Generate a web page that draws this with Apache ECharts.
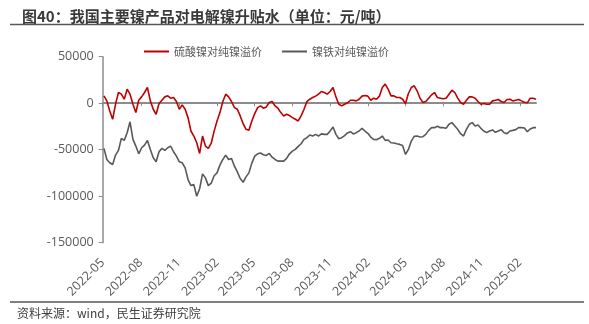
<!DOCTYPE html>
<html><head><meta charset="utf-8">
<script src="https://cdn.jsdelivr.net/npm/echarts@6/dist/echarts.min.js"></script>
<style>html,body{margin:0;padding:0;background:#fff}#c{width:589px;height:324px}</style>
</head><body><div id="c"></div>
<script>
const titleText = '图40：我国主要镍产品对电解镍升贴水（单位：元/吨）';
const sourceText = '资料来源：wind，民生证券研究院';
const seriesNames = ['硫酸镍对纯镍溢价', '镍铁对纯镍溢价'];
const startDate = '2022-05-04';   // weekly observations
const endDate = '2025-03-12';
const tickLabels = ['2022-05','2022-08','2022-11','2023-02','2023-05','2023-08','2023-11','2024-02','2024-05','2024-08','2024-11','2025-02'];
const yTicks = [-150000, -100000, -50000, 0, 50000];

const sulfateValues = [7900,2500,-8300,-17300,-1000,11500,9700,4300,15100,9700,
-1100,-10000,3200,6800,11500,16900,2500,-6500,-11900,-400,
3200,6800,7900,5400,6100,1800,-6500,-1800,-6500,-15500,
-29900,-35300,-42500,-54000,-35300,-46100,-48600,-43000,-30000,-19100,
-10100,1800,9700,6800,1800,-4700,-6500,-13700,-22000,-28100,
-29200,-19100,-11200,-4700,-2900,-5400,-4000,700,1800,-2900,
-5400,-10100,-13700,-11900,-13300,-15500,-17300,-19100,-13700,-6500,
1800,4300,6100,7600,9700,12600,11500,9700,12600,16900,
6800,-1100,-2900,-1100,400,3200,3200,2500,4300,7600,
8300,7600,3200,5400,4300,7600,16900,20500,15100,7900,
7900,6100,6100,4300,-400,10400,16900,18700,13300,5400,
700,1800,5400,9000,11500,6100,5400,4700,5400,9700,
14000,11500,5400,700,-1100,3200,6800,6800,5400,1800,
-1100,-400,-1100,-1100,2500,3200,4000,1800,700,4000,
4300,2500,3200,4000,2500,1100,400,5400,5400,4300];

const ferroValues = [-48600,-60500,-64100,-65900,-55800,-50800,-37800,-40000,-31700,-20000,
-38900,-46100,-54400,-47900,-45000,-40000,-49700,-58700,-63000,-52200,
-48600,-50800,-47900,-46100,-52200,-56900,-63000,-64100,-69500,-82100,
-88600,-87500,-100000,-92000,-76000,-80300,-88600,-86000,-78000,-74900,
-66600,-60500,-55800,-60500,-59400,-67700,-73800,-81000,-85000,-79200,
-74900,-64400,-56900,-54400,-53600,-55400,-56200,-54000,-58000,-60500,
-62300,-62300,-62300,-59400,-54400,-51500,-49700,-46400,-43600,-38900,
-37100,-34200,-35300,-33500,-35300,-33000,-33500,-33500,-29900,-25600,
-33500,-38200,-37100,-34900,-32000,-30600,-33100,-31700,-29900,-27000,
-29900,-32400,-36400,-38900,-39200,-37800,-35300,-40000,-39600,-42500,
-42800,-43600,-44300,-45400,-55100,-49700,-40700,-35600,-35300,-36400,
-36000,-33500,-29200,-26300,-26300,-24800,-26300,-26300,-27000,-22700,
-20900,-24500,-28100,-32800,-35300,-28100,-22700,-20900,-24500,-23400,
-27000,-29900,-31700,-29900,-28800,-31300,-29900,-28400,-31700,-32800,
-29900,-29200,-28400,-26300,-26300,-26600,-30600,-27700,-26300,-26300];

const DAY = 86400000;
const t0 = Date.parse(startDate + 'T00:00:00Z');
const dates = sulfateValues.map((_, i) => t0 + i * 7 * DAY);
const tickTimes = tickLabels.map(s => Date.parse(s + '-01T00:00:00Z'));
const axisMin = Date.parse(tickLabels[0] + '-01T00:00:00Z');
const axisMax = Date.parse(endDate + 'T00:00:00Z');
const fmt = v => { const d = new Date(v); return d.getUTCFullYear() + '-' + String(d.getUTCMonth() + 1).padStart(2, '0'); };

const numFont = '"Open Sans", "Noto Sans", sans-serif';
const cjkFont = '"Noto Sans CJK SC", sans-serif';
const chart = echarts.init(document.getElementById('c'), null, {renderer: 'canvas'});
chart.setOption({
  animation: false,
  backgroundColor: '#ffffff',
  title: {
    text: titleText, left: 17, top: 4,
    textStyle: {fontFamily: cjkFont, fontSize: 15, fontWeight: 'bold', color: '#3a3a3a'}
  },
  legend: {
    data: seriesNames, left: 139, top: 41, itemWidth: 25, itemHeight: 2, itemGap: 20,
    icon: 'rect',
    textStyle: {fontFamily: cjkFont, fontSize: 11, color: '#595959'}
  },
  grid: {left: 102.7, right: 53, top: 56.7, bottom: 81.3, containLabel: false},
  xAxis: [{
    type: 'value', min: axisMin, max: axisMax, position: 'bottom', scale: true,
    axisLine: {show: false, onZero: false},
    axisTick: {show: false},
    splitLine: {show: false},
    axisLabel: {
      customValues: tickTimes, rotate: 45, margin: 18, formatter: fmt,
      fontFamily: numFont, fontSize: 12.5, color: '#595959', hideOverlap: false,
      showMinLabel: true, showMaxLabel: true
    }
  }, {
    type: 'value', min: axisMin, max: axisMax, position: 'bottom', scale: true,
    axisLine: {show: true, onZero: true, lineStyle: {color: '#8c8c8c', width: 2}},
    axisTick: {show: true, customValues: tickTimes, length: 3, lineStyle: {color: '#8c8c8c', width: 1}},
    axisLabel: {show: false},
    splitLine: {show: false}
  }],
  yAxis: {
    type: 'value', min: yTicks[0], max: yTicks[yTicks.length - 1], interval: 50000,
    axisLine: {show: true, onZero: false, lineStyle: {color: '#8c8c8c', width: 1.5}},
    axisTick: {show: true, length: 4, lineStyle: {color: '#8c8c8c'}},
    splitLine: {show: false},
    axisLabel: {fontFamily: numFont, fontSize: 12.5, color: '#595959', margin: 9, formatter: v => String(v)}
  },
  series: [{
    name: seriesNames[0], type: 'line', xAxisIndex: 0, showSymbol: false, symbol: 'none',
    data: dates.map((d, i) => [d, sulfateValues[i]]),
    lineStyle: {color: '#c00000', width: 1.6}, itemStyle: {color: '#c00000'}, z: 3
  }, {
    name: seriesNames[1], type: 'line', xAxisIndex: 0, showSymbol: false, symbol: 'none',
    data: dates.map((d, i) => [d, ferroValues[i]]),
    lineStyle: {color: '#595959', width: 1.6}, itemStyle: {color: '#595959'}, z: 3
  }],
  graphic: [
    {type: 'line', shape: {x1: 10, y1: 24.5, x2: 584, y2: 24.5}, style: {stroke: '#595959', lineWidth: 1.5}},
    {type: 'line', shape: {x1: 10, y1: 302, x2: 584, y2: 302}, style: {stroke: '#7f7f7f', lineWidth: 2}},
    {type: 'text', left: 17, top: 307, style: {text: sourceText, fontFamily: cjkFont, fontSize: 12, fill: '#404040'}}
  ]
});
</script></body></html>
